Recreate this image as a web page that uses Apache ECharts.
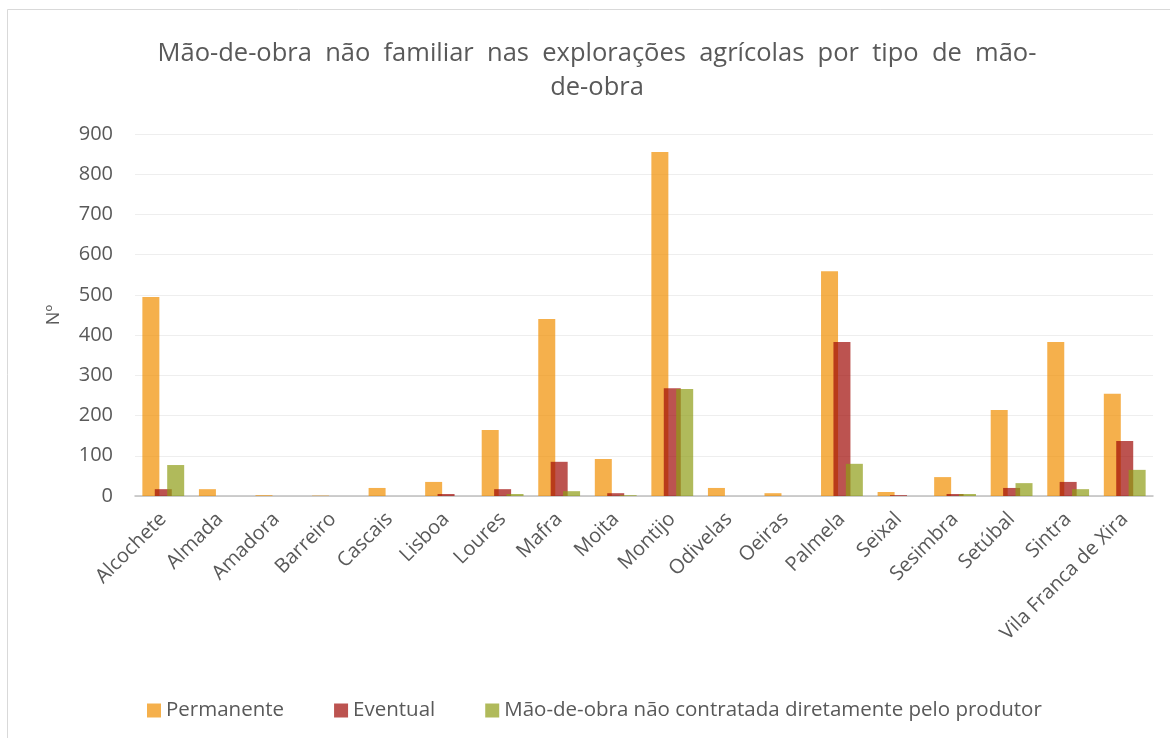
<!DOCTYPE html>
<html>
<head>
<meta charset="utf-8">
<script src="https://cdn.jsdelivr.net/npm/echarts@6/dist/echarts.min.js"></script>
<style>html,body{margin:0;padding:0;background:#fff}#c{width:1170px;height:738px}</style>
</head>
<body>
<div id="c"></div>
<script>
const categories = ["Alcochete","Almada","Amadora","Barreiro","Cascais","Lisboa","Loures","Mafra","Moita","Montijo","Odivelas","Oeiras","Palmela","Seixal","Sesimbra","Setúbal","Sintra","Vila Franca de Xira"];
const permanente = [495,17,2,1,20,35,164,440,92,855,20,7,559,10,47,214,383,254];
const eventual   = [17,0,0,0,0,5,17,85,7,268,0,0,383,2,5,20,35,137];
const naoContratada = [77,0,0,0,0,0,5,12,2,266,0,0,80,0,5,32,17,65];
const seriesNames = ["Permanente","Eventual","Mão-de-obra não contratada diretamente pelo produtor"];
const yTicks = [0,100,200,300,400,500,600,700,800,900];

const font = "'Open Sans', sans-serif";
const txt = "#595959";
const chart = echarts.init(document.getElementById('c'), null, {renderer:'canvas'});
const mk = (name, data, color) => ({
  name, type:'bar', data, barWidth:17, barGap:'-27%',
  itemStyle:{color}
});
chart.setOption({
  animation:false,
  backgroundColor:'#fff',
  graphic:[{type:'rect', shape:{x:7.5,y:9.5,width:1300,height:900}, style:{fill:'none',stroke:'#d9d9d9',lineWidth:1}, silent:true}],
  title:{
    text:"Mão-de-obra  não  familiar  nas  explorações  agrícolas  por  tipo  de  mão-\nde-obra",
    left:592, top:32, textAlign:'center',
    textStyle:{fontFamily:font, fontSize:25.5, fontWeight:'normal', color:txt, lineHeight:34}
  },
  legend:{
    data:seriesNames, left:142, top:695, itemWidth:14, itemHeight:14, itemGap:50,
    icon:'rect',
    textStyle:{fontFamily:font, fontSize:20.5, color:txt}
  },
  grid:{left:135, right:17, top:134, bottom:242, containLabel:false},
  xAxis:{
    type:'category', data:categories,
    axisLine:{lineStyle:{color:'#bfbfbf', width:1.5}},
    axisTick:{show:false},
    axisLabel:{rotate:45, interval:0, fontFamily:font, fontSize:20, color:txt, margin:20}
  },
  yAxis:{
    type:'value', min:0, max:900, interval:100,
    name:'Nº', nameLocation:'middle', nameGap:72, nameRotate:90,
    nameTextStyle:{fontFamily:font, fontSize:18, color:txt},
    axisLine:{show:false}, axisTick:{show:false},
    splitLine:{lineStyle:{color:'#eeeeee', width:1}},
    axisLabel:{fontFamily:font, fontSize:20, color:txt, margin:22,
      formatter:v => yTicks.includes(v) ? String(v) : ''}
  },
  series:[
    mk(seriesNames[0], permanente, 'rgba(241,142,0,0.7)'),
    mk(seriesNames[1], eventual, 'rgba(159,10,5,0.7)'),
    mk(seriesNames[2], naoContratada, 'rgba(142,156,22,0.7)')
  ]
});
</script>
</body>
</html>
